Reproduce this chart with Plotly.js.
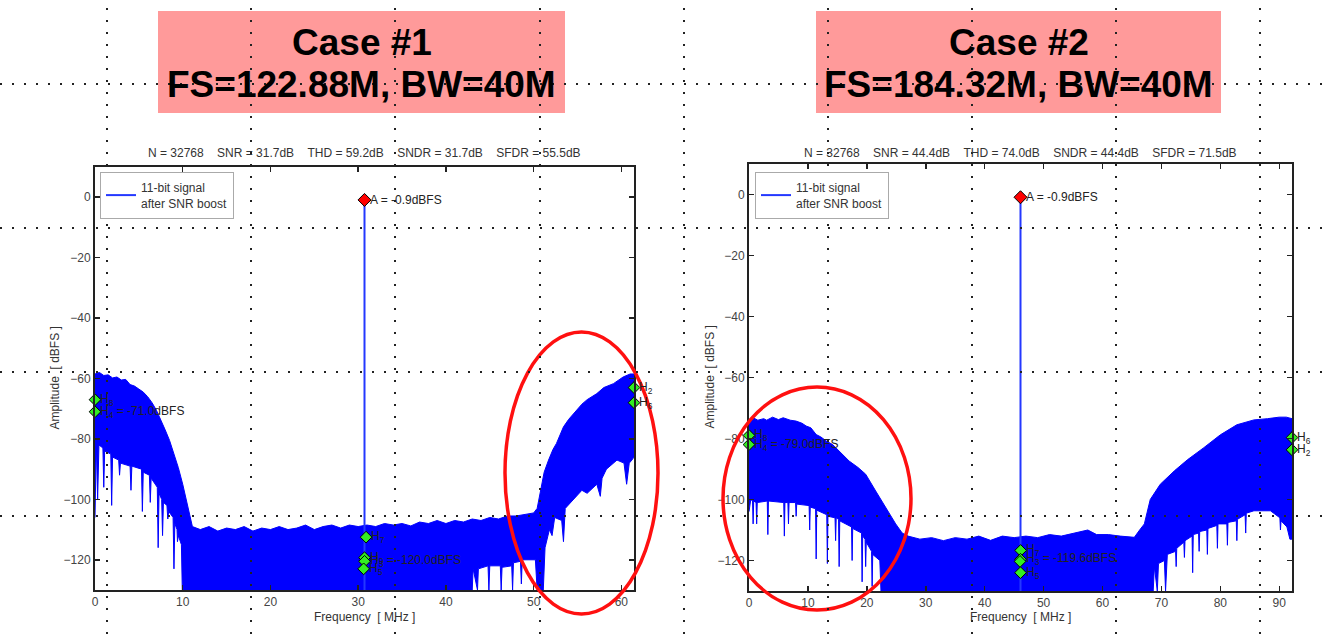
<!DOCTYPE html>
<html><head><meta charset="utf-8">
<script src="https://cdn.plot.ly/plotly-3.0.1.min.js"></script>
<style>html,body{margin:0;padding:0;background:#fff}#chart{width:1323px;height:634px}</style>
</head><body><div id="chart"></div>
<script>
// ---------- DATA ----------
const caseNames = ["Case #1", "Case #2"];
const caseParams = ["FS=122.88M, BW=40M", "FS=184.32M, BW=40M"];
const statItems = [
  ["N = 32768", "SNR = 31.7dB", "THD = 59.2dB", "SNDR = 31.7dB", "SFDR = 55.5dB"],
  ["N = 32768", "SNR = 44.4dB", "THD = 74.0dB", "SNDR = 44.4dB", "SFDR = 71.5dB"]
];
const legendName = "11-bit signal<br>after SNR boost";
const nyquist = [61.44, 92.16];
const xTicks1 = [0,10,20,30,40,50,60];
const xTicks2 = [0,10,20,30,40,50,60,70,80,90];
const yTicks = [-120,-100,-80,-60,-40,-20,0];

// spectrum envelope, case 1 (MHz, dBFS)
const c1Upper = [[0,-58.5],[0.5,-58],[1,-59],[1.5,-58.8],[2,-59.8],[2.5,-59.5],[3,-60.5],[3.5,-60.3],[4,-62],[4.5,-62.5],[5,-63.5],[5.5,-64.5],[6,-66],[6.5,-68],[7,-70.5],[7.5,-73.5],[8,-77],[8.5,-80.5],[9,-85],[9.5,-89.5],[10,-95],[10.4,-100],[10.8,-106],[11.1,-109],[12,-110],[13,-109],[14,-110.5],[15,-109.5],[16,-110],[17,-109],[18,-110.5],[19,-109.5],[20,-110],[21,-109],[22,-110],[23,-109.5],[24,-108.5],[25,-110],[26,-109],[27,-108.5],[28,-109.5],[29,-108.5],[30,-109],[31,-108.5],[32,-109],[33,-108],[34,-108.5],[35,-108],[36,-108.8],[37,-107.5],[38,-108],[39,-107],[40,-108],[41,-107],[42,-107.5],[43,-106.5],[44,-107],[45,-106],[46,-106.5],[47,-105.5],[48,-105.5],[49,-105],[50,-104.5],[50.4,-103],[50.8,-97],[51.2,-91],[51.7,-87],[52.2,-83.5],[52.6,-81.5],[53,-78.5],[53.4,-76],[54,-73.5],[54.9,-70.5],[55.5,-68.5],[56.1,-67],[57.2,-65],[58,-63],[59.1,-61.7],[60.2,-59.5],[61,-58.5],[61.44,-58.5]];
const c1Lower = [[0,-106],[0.15,-81],[0.3,-100],[0.45,-82],[0.9,-83],[1.0,-96],[1.1,-84],[1.8,-85],[1.9,-102],[2.0,-86],[2.7,-87],[2.8,-92],[2.9,-88],[4.0,-89],[4.1,-97],[4.2,-89],[5.3,-90],[5.4,-104],[5.5,-91],[6.2,-92],[6.3,-101],[6.4,-93],[7.1,-96],[7.2,-116],[7.3,-98],[7.6,-100],[7.7,-112],[7.8,-101],[8.2,-102],[8.3,-106.5],[8.4,-104],[8.9,-106],[9.0,-123],[9.1,-108],[9.35,-110],[9.4,-114],[9.5,-112],[9.85,-115],[9.95,-130],[43,-130],[43.1,-123],[43.6,-130],[43.7,-123],[44.8,-122],[44.9,-130],[45,-122],[46.2,-122],[46.3,-130],[46.4,-122.5],[47.5,-122],[47.6,-130],[47.7,-121],[48.5,-120.5],[48.6,-128],[48.7,-120],[50.2,-120],[50.4,-130],[51.1,-130],[51.3,-116],[51.8,-110],[52.1,-112],[52.4,-106],[53.2,-107],[53.4,-114],[53.6,-103],[54.9,-99],[55.5,-97],[56.1,-98],[57.2,-95],[57.6,-99],[57.8,-93],[58.3,-90],[59.5,-87],[60.3,-88],[60.6,-95],[60.9,-88],[61.2,-87],[61.44,-86]];

// spectrum envelope, case 2 (MHz, dBFS)
const c2Upper = [[0,-74],[0.5,-73],[1.5,-74],[2.5,-73.5],[3,-74],[4,-73],[5,-73.8],[5.8,-73.2],[7,-74],[8,-74.3],[9,-75],[9.7,-75.9],[10.5,-76.5],[11.4,-78.7],[12.2,-79.5],[13.1,-80.8],[14.2,-82],[15.5,-84.5],[17,-87.4],[18.5,-89.5],[19.8,-91.7],[21.5,-97.2],[23.2,-102.6],[24.9,-108],[26,-111],[27,-112],[29,-113],[31,-112.5],[33,-113.5],[35,-112.5],[37,-113],[39,-112],[41,-113.4],[43,-112],[45,-112.5],[47,-112],[49,-112.5],[51,-111.5],[53,-112],[55,-111],[57.5,-110],[59,-111.5],[61,-111.5],[63,-112],[65.4,-112.4],[66.3,-110],[67.1,-108],[68.1,-100],[69.8,-95],[72.2,-90.6],[74.4,-87],[77.2,-83],[80,-78.8],[82.8,-75.5],[85.7,-73.9],[88,-73.5],[90,-73],[91.2,-73],[92.16,-73.5]];
const c2Lower = [[0,-104],[0.3,-100],[0.6,-100.5],[0.7,-108],[0.8,-100.5],[1.2,-101],[1.3,-108],[1.4,-101],[3.1,-100.5],[3.2,-111.5],[3.3,-100.5],[5.9,-101],[6.0,-112],[6.1,-101],[6.6,-101],[6.7,-108],[6.8,-101],[7.9,-101],[8.0,-105.5],[8.1,-101.5],[10.2,-102],[10.3,-110],[10.4,-102.5],[11.3,-103],[11.4,-119.5],[11.5,-103.5],[13.2,-105],[13.3,-121],[13.4,-105.5],[14.6,-106],[14.7,-113.5],[14.8,-106],[15.2,-106.5],[15.3,-122],[15.4,-107],[17.4,-109],[17.5,-120],[17.6,-109.5],[19.1,-111],[19.2,-127],[19.3,-112],[19.7,-113],[19.8,-122],[19.9,-114],[20.8,-117],[20.9,-128.5],[21,-118],[22.2,-120],[22.4,-130],[68.6,-130],[68.8,-122],[69.3,-130],[69.5,-121],[70.5,-120],[70.7,-130],[71.0,-118],[71.6,-117.5],[72.4,-117],[72.5,-122],[72.6,-116],[73.8,-114],[73.9,-119],[74.0,-113.5],[75.2,-112],[75.3,-124],[75.4,-111.5],[76.3,-111],[76.4,-117],[76.5,-110.5],[77.7,-110],[77.8,-118],[77.9,-109.5],[79.4,-108.5],[79.5,-116],[79.6,-108],[81.1,-108],[81.2,-115],[81.3,-107.5],[82.7,-107],[82.8,-113.5],[82.9,-106.5],[84.2,-105],[84.3,-111],[84.4,-104.5],[85.7,-103.7],[88.5,-103.7],[90.1,-106],[90.2,-110],[90.3,-107],[91.3,-109],[91.8,-113],[92.16,-113]];

// fundamental
const toneFreq = [30.72, 46.08];
const toneAmp = [-0.9, -0.9];
const toneLabel = ["A = -0.9dBFS", "A = -0.9dBFS"];

// harmonics
const c1HarmFreq = [0, 0, 30.9, 30.72, 30.72, 30.62, 61.44, 61.44];
const c1HarmAmp  = [-67, -71, -112.5, -119.3, -120.5, -123, -63, -68];
const c1HarmText = ["H<sub>8</sub>", "H<sub>4</sub> = -71.0dBFS", "H<sub>7</sub>", "H<sub>9</sub>", "H<sub>3</sub> = -120.0dBFS", "H<sub>5</sub>", "H<sub>2</sub>", "H<sub>6</sub>"];
const c2HarmFreq = [0, 0, 46.1, 46.08, 46.0, 46.08, 92.16, 92.16];
const c2HarmAmp  = [-79, -82, -116.7, -119.6, -120.3, -124, -79.7, -83.7];
const c2HarmText = ["H<sub>8</sub>", "H<sub>4</sub> = -79.0dBFS", "H<sub>7</sub>", "H<sub>3</sub> = -119.6dBFS", "", "H<sub>5</sub>", "H<sub>6</sub>", "H<sub>2</sub>"];

// ---------- BUILD ----------
const W = 1323, H = 634;
const px = v => v / W, py = v => 1 - v / H;
const FONT = "Liberation Sans, Arial, sans-serif";
const BLUE = "#0000ff";
const FS = 12;

function polygon(upper, lower) {
  const x = upper.map(p => p[0]).concat(lower.slice().reverse().map(p => p[0]));
  const y = upper.map(p => p[1]).concat(lower.slice().reverse().map(p => p[1]));
  return {x, y};
}
const p1 = polygon(c1Upper, c1Lower), p2 = polygon(c2Upper, c2Lower);

const traces = [];
[[p1,'x','y'],[p2,'x2','y2']].forEach(([p,xa,ya]) => {
  traces.push({type:'scatter', mode:'lines', x:p.x, y:p.y, xaxis:xa, yaxis:ya,
    fill:'toself', fillcolor:BLUE, line:{color:BLUE, width:1}, showlegend:false, hoverinfo:'skip'});
});
[0,1].forEach(i => {
  traces.push({type:'scatter', mode:'lines', x:[toneFreq[i], toneFreq[i]], y:[-130, toneAmp[i]],
    xaxis: i ? 'x2':'x', yaxis: i ? 'y2':'y', line:{color:'#2438ff', width:2},
    name: legendName, showlegend:true, legend: i ? 'legend2' : 'legend'});
});
[[c1HarmFreq,c1HarmAmp,'x','y'],[c2HarmFreq,c2HarmAmp,'x2','y2']].forEach(([f,a,xa,ya]) => {
  traces.push({type:'scatter', mode:'markers', x:f, y:a, xaxis:xa, yaxis:ya, cliponaxis:false,
    marker:{symbol:'diamond', size:9, color:'#33ee22', line:{color:'#000', width:1}}, showlegend:false});
});
[0,1].forEach(i => {
  traces.push({type:'scatter', mode:'markers', x:[toneFreq[i]], y:[toneAmp[i]],
    xaxis: i ? 'x2':'x', yaxis: i ? 'y2':'y', cliponaxis:false,
    marker:{symbol:'diamond', size:10, color:'#ff0000', line:{color:'#000', width:1}}, showlegend:false});
});

const annotations = [];
const smallFont = {family:FONT, size:FS, color:'#222'};
[[c1HarmFreq,c1HarmAmp,c1HarmText,'x','y'],[c2HarmFreq,c2HarmAmp,c2HarmText,'x2','y2']].forEach(([f,a,t,xa,ya]) => {
  f.forEach((fv,k) => { if(!t[k]) return;
    annotations.push({x:fv, y:a[k], xref:xa, yref:ya, text:t[k], showarrow:false, xanchor:'left', yanchor:'middle', xshift:3, font:smallFont});
  });
});
[0,1].forEach(i => {
  annotations.push({x:toneFreq[i], y:toneAmp[i], xref: i?'x2':'x', yref: i?'y2':'y', text: toneLabel[i],
    showarrow:false, xanchor:'left', yanchor:'middle', xshift:3, font:smallFont});
});
function paperText(xp, yp, text, font, extra) {
  annotations.push(Object.assign({x:px(xp), y:py(yp), xref:'paper', yref:'paper', text, showarrow:false,
    xanchor:'center', yanchor:'middle', font}, extra || {}));
}
// case titles
[[158,565],[816,1221]].forEach(([a,b],i) => {
  const bigFont = {family:FONT, size:37, color:'#000'};
  paperText((a+b)/2, 42, '<b>'+caseNames[i]+'</b>', bigFont);
  paperText((a+b)/2, 84, '<b>'+caseParams[i]+'</b>', bigFont);
});
// stat titles, axis titles
const axes = [{l:95, r:634, t:167, b:590}, {l:749, r:1292, t:164, b:591}];
const labFont = {family:FONT, size:FS, color:'#333'};
const gap = '&nbsp;&nbsp;&nbsp;&nbsp;';
axes.forEach((ax,i) => {
  paperText((ax.l+ax.r)/2, 153, statItems[i].join(gap), labFont);
  paperText((ax.l+ax.r)/2, 617, 'Frequency&nbsp;&nbsp;[ MHz ]', labFont);
  paperText(ax.l-40, (ax.t+ax.b)/2, 'Amplitude&nbsp;&nbsp;[ dBFS ]', labFont, {textangle:-90});
});

const shapes = [];
// pink title boxes
[[158,565],[816,1221]].forEach(([a,b]) => {
  shapes.push({type:'rect', xref:'paper', yref:'paper', x0:px(a), x1:px(b), y0:py(113), y1:py(11),
    fillcolor:'#ff9a9a', line:{width:0}, layer:'below'});
});
// red ellipses
[[505,658,332,614],[723,911,387,610]].forEach(([a,b,c,d]) => {
  shapes.push({type:'circle', xref:'paper', yref:'paper', x0:px(a), x1:px(b), y0:py(d), y1:py(c),
    line:{color:'#ff1010', width:3.5}, layer:'above'});
});
// slide guide dots
[107,251,395,540,684,828,972,1116,1260].forEach(v => {
  shapes.push({type:'line', xref:'paper', yref:'paper', x0:px(v), x1:px(v), y0:0, y1:1,
    line:{color:'#222', width:2, dash:'2px,10px'}, layer:'above'});
});
[84,228,372,516].forEach(v => {
  shapes.push({type:'line', xref:'paper', yref:'paper', x0:0, x1:1, y0:py(v), y1:py(v),
    line:{color:'#222', width:2, dash:'2px,10px'}, layer:'above'});
});

const axisCommon = {showgrid:false, zeroline:false, showline:true, mirror:'ticks', linecolor:'#222', linewidth:2,
  ticks:'inside', ticklen:5, tickwidth:1.5, tickcolor:'#222', tickfont:{family:FONT, size:FS, color:'#444'}, fixedrange:true};

const legendCommon = {xanchor:'left', yanchor:'top', bgcolor:'#fff', bordercolor:'#aaa', borderwidth:1,
  font:{family:FONT, size:FS, color:'#333'}, itemwidth:30};

const layout = {
  width:W, height:H, margin:{l:0,r:0,t:0,b:0}, paper_bgcolor:'#fff', plot_bgcolor:'#fff',
  font:{family:FONT},
  xaxis: Object.assign({}, axisCommon, {domain:[px(95), px(634)], range:[0, nyquist[0]], tickvals:xTicks1, anchor:'y'}),
  yaxis: Object.assign({}, axisCommon, {domain:[py(590), py(167)], range:[-130, 10], tickvals:yTicks, anchor:'x'}),
  xaxis2: Object.assign({}, axisCommon, {domain:[px(749), px(1292)], range:[0, nyquist[1]], tickvals:xTicks2, anchor:'y2'}),
  yaxis2: Object.assign({}, axisCommon, {domain:[py(591), py(164)], range:[-130, 10], tickvals:yTicks, anchor:'x2'}),
  legend: Object.assign({}, legendCommon, {x:px(100), y:py(172)}),
  legend2: Object.assign({}, legendCommon, {x:px(755), y:py(172)}),
  annotations, shapes, showlegend:true
};
Plotly.newPlot('chart', traces, layout, {staticPlot:true, displayModeBar:false});
</script></body></html>
